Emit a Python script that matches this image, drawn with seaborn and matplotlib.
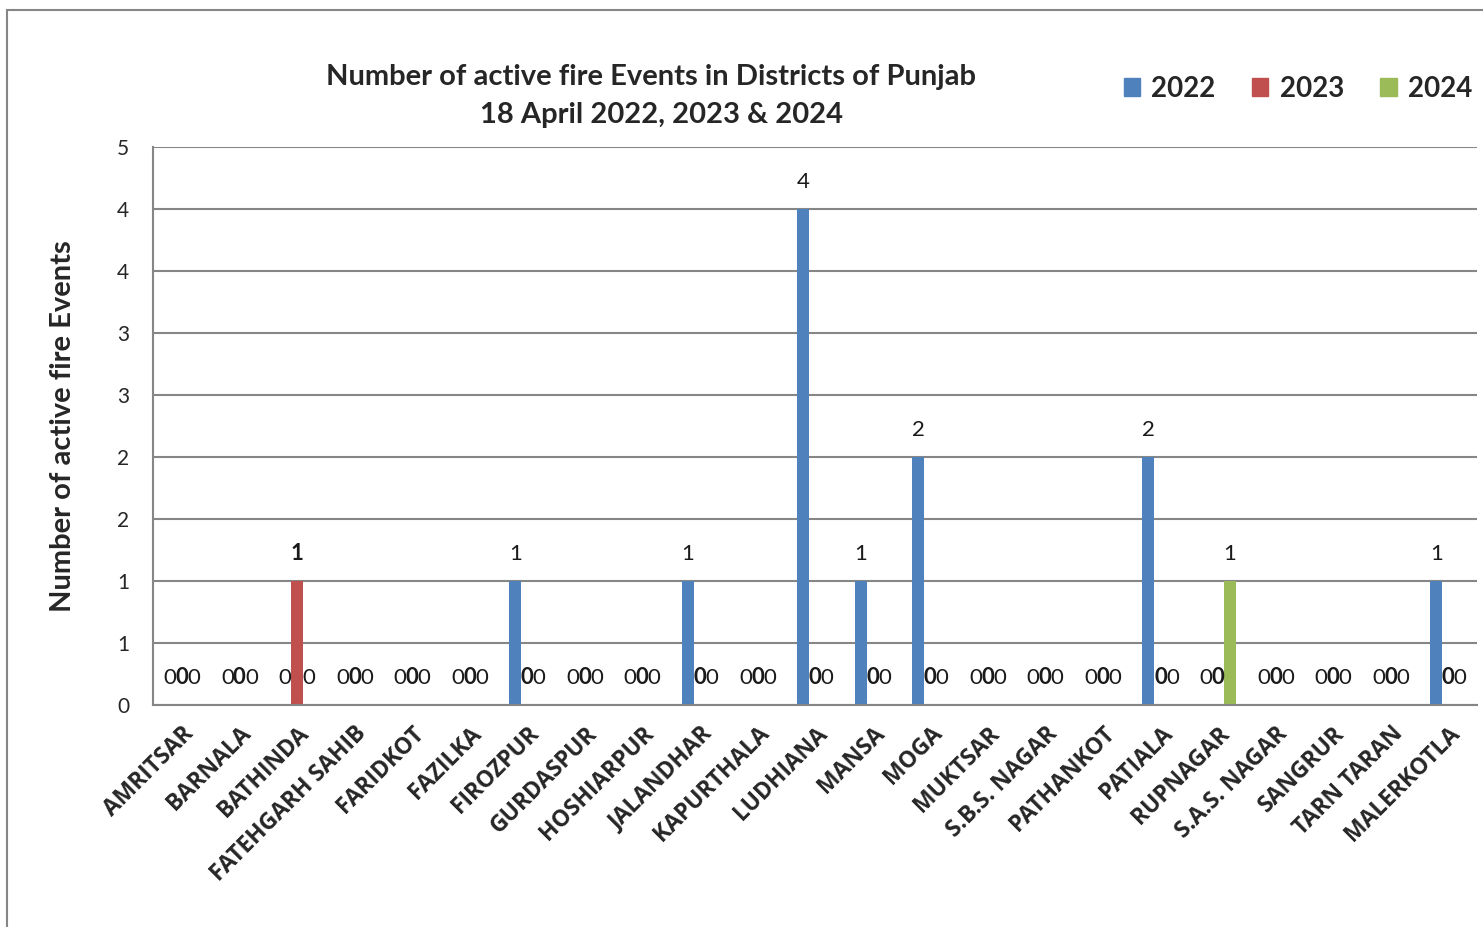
import matplotlib
matplotlib.use("Agg")
import matplotlib.pyplot as plt
import seaborn as sns
import pandas as pd
from matplotlib.patches import Rectangle, Patch

districts = ["AMRITSAR", "BARNALA", "BATHINDA", "FATEHGARH SAHIB", "FARIDKOT",
             "FAZILKA", "FIROZPUR", "GURDASPUR", "HOSHIARPUR", "JALANDHAR",
             "KAPURTHALA", "LUDHIANA", "MANSA", "MOGA", "MUKTSAR",
             "S.B.S. NAGAR", "PATHANKOT", "PATIALA", "RUPNAGAR", "S.A.S. NAGAR",
             "SANGRUR", "TARN TARAN", "MALERKOTLA"]
fires_2022 = [0, 0, 0, 0, 0, 0, 1, 0, 0, 1, 0, 4, 1, 2, 0, 0, 0, 2, 0, 0, 0, 0, 1]
fires_2023 = [0, 0, 1, 0, 0, 0, 0, 0, 0, 0, 0, 0, 0, 0, 0, 0, 0, 0, 0, 0, 0, 0, 0]
fires_2024 = [0, 0, 0, 0, 0, 0, 0, 0, 0, 0, 0, 0, 0, 0, 0, 0, 0, 0, 1, 0, 0, 0, 0]
years = ["2022", "2023", "2024"]
colors = ["#4F81BD", "#C0504D", "#9BBB59"]
ytick_values = [0, 0.5, 1, 1.5, 2, 2.5, 3, 3.5, 4, 4.5]
ytick_labels = ["0", "1", "1", "2", "2", "3", "3", "4", "4", "5"]

df = pd.DataFrame({
    "district": districts * 3,
    "year": [y for y in years for _ in districts],
    "fires": fires_2022 + fires_2023 + fires_2024,
})

sns.set_style("white")
plt.rcParams["font.family"] = ["Lato", "DejaVu Sans"]
grid_col = "#868686"

fig = plt.figure(figsize=(14.83, 9.27), dpi=100)
ax = fig.add_axes([153 / 1483, 1 - 705 / 927, (1477 - 153) / 1483, (705 - 147) / 927])

sns.barplot(data=df, x="district", y="fires", hue="year", palette=colors,
            width=0.625, saturation=1, linewidth=0, ax=ax, legend=False)

# data labels: 2023 shown bold like the original
for cont, yr in zip(ax.containers, years):
    ax.bar_label(cont, labels=[f"{v.get_height():.0f}" for v in cont],
                 padding=12, fontsize=16, color="#1a1a1a",
                 fontweight="bold" if yr == "2023" else "normal")

ax.set_ylim(0, 4.5)
ax.set_xlim(-0.5, len(districts) - 0.5)
ax.set_yticks(ytick_values)
ax.set_yticklabels(ytick_labels, fontsize=15)
ax.yaxis.grid(True, color=grid_col, linewidth=1.5)
ax.set_axisbelow(True)
ax.tick_params(axis="y", length=5, color=grid_col, width=1.5, pad=12)

ax.set_xticks(range(len(districts)))
ax.set_xticklabels(districts, rotation=45, ha="right", rotation_mode="anchor",
                   fontsize=16.5, fontweight="bold", family=["Open Sans", "DejaVu Sans"])
ax.set_xticks([i - 0.5 for i in range(len(districts) + 1)], minor=True)
ax.tick_params(axis="x", which="major", length=0, pad=12)
ax.tick_params(axis="x", which="minor", length=8, color=grid_col, width=1.5, direction="out")
ax.set_xlabel("")
ax.set_ylabel("Number of active fire Events", fontsize=21, fontweight="bold", labelpad=30)

for side in ["top", "right"]:
    ax.spines[side].set_visible(False)
for side in ["left", "bottom"]:
    ax.spines[side].set_color(grid_col)
    ax.spines[side].set_linewidth(1.5)

fig.text(651 / 1483, 1 - 77 / 927, "Number of active fire Events in Districts of Punjab",
         ha="center", va="center", fontsize=21, fontweight="bold")
fig.text(662 / 1483, 1 - 115 / 927, "18 April 2022, 2023 & 2024",
         ha="center", va="center", fontsize=21, fontweight="bold")

handles = [Patch(color=c, label=y) for c, y in zip(colors, years)]
fig.legend(handles=handles, loc="center right", bbox_to_anchor=(1.0095, 1 - 89 / 927),
           ncol=3, frameon=False, handlelength=0.6, handleheight=0.6,
           handletextpad=0.4, columnspacing=1.3, prop={"size": 20, "weight": "bold"})

fig.patches.append(Rectangle((7 / 1483, -0.1), 1.2, 1 - 10 / 927 + 0.1,
                             transform=fig.transFigure, fill=False,
                             edgecolor=grid_col, linewidth=1.5))

fig.savefig("out.png", dpi=100)
